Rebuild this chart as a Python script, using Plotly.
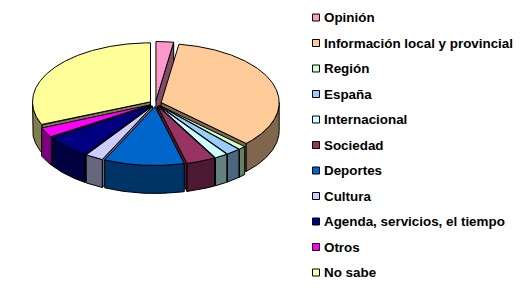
import numpy as np
import plotly.graph_objects as go

# ---- data ----
categories = ["Opinión", "Información local y provincial", "Región", "España",
              "Internacional", "Sociedad", "Deportes", "Cultura",
              "Agenda, servicios, el tiempo", "Otros", "No sabe"]
values = [2.4, 34.8, 1.0, 2.0, 1.8, 4.0, 11.0, 2.5, 6.3, 2.8, 31.4]
top_colors = ["#FF99CC", "#FFCC99", "#CCFFCC", "#99CCFF", "#CCFFFF", "#993366",
              "#0066CC", "#CCCCFF", "#000080", "#FF00FF", "#FFFF99"]

# ---- 3D pie geometry (layout constants) ----
CX, CY = 155.5, 103.5      # pie centre (pixels)
RA, RB = 118.0, 59.0       # ellipse radii
DEPTH = 28.0               # thickness
EX, EY = 6.0, 3.0          # explosion offset


def darker(hexcol):
    h = hexcol.lstrip("#")
    r, g, b = (int(h[i:i + 2], 16) for i in (0, 2, 4))
    return "#%02X%02X%02X" % (r // 2, g // 2, b // 2)


def pt(theta, r, dx, dy, down=0.0):
    t = np.radians(theta)
    return CX + dx + RA * r * np.sin(t), CY + dy - RB * r * np.cos(t) + down


def arc(t1, t2, dx, dy, down=0.0):
    n = max(int(abs(t2 - t1)) * 2, 2)
    th = np.linspace(t1, t2, n + 1)
    xs, ys = pt(th, 1.0, dx, dy, down)
    return list(xs), list(ys)


total = float(sum(values))
angles = np.cumsum([0.0] + [v / total * 360.0 for v in values])

sides = []   # (depth_key, xs, ys, color)
tops = []
for i, cat in enumerate(categories):
    t1, t2 = angles[i], angles[i + 1]
    m = np.radians((t1 + t2) / 2)
    dx, dy = EX * np.sin(m), -EY * np.cos(m)
    ax, ay = CX + dx, CY + dy
    # top surface
    xs, ys = arc(t1, t2, dx, dy)
    tops.append(([ax] + xs + [ax], [ay] + ys + [ay], top_colors[i]))
    side = darker(top_colors[i])
    # outer rim (front half)
    r1, r2 = max(t1, 90.0), min(t2, 270.0)
    if r2 > r1:
        xa, ya = arc(r1, r2, dx, dy)
        xb, yb = arc(r1, r2, dx, dy, DEPTH)
        key = -np.cos(np.radians((r1 + r2) / 2))
        sides.append((key, xa + xb[::-1] + [xa[0]], ya + yb[::-1] + [ya[0]], side))
    # radial faces
    for t, vis in ((t1, np.sin(np.radians(t1)) < -1e-9),
                   (t2, np.sin(np.radians(t2)) > 1e-9)):
        if vis:
            px, py = pt(t, 1.0, dx, dy)
            key = -0.5 * np.cos(np.radians(t))
            sides.append((key, [ax, px, px, ax, ax],
                          [ay, py, py + DEPTH, ay + DEPTH, ay], side))

fig = go.Figure()
for key, xs, ys, col in sorted(sides, key=lambda s: s[0]):
    fig.add_trace(go.Scatter(x=xs, y=ys, mode="lines", fill="toself",
                             fillcolor=col, line=dict(color="black", width=1),
                             hoverinfo="skip", showlegend=False))
for (xs, ys, col), cat, v in zip(tops, categories, values):
    fig.add_trace(go.Scatter(x=xs, y=ys, mode="lines", fill="toself",
                             fillcolor=col, line=dict(color="black", width=1),
                             name=cat, text=f"{cat}: {v}%", hoverinfo="text",
                             showlegend=False))

# ---- manual legend ----
LX, LY0, LSTEP = 312.5, 17.5, 25.5
for i, cat in enumerate(categories):
    yc = LY0 + i * LSTEP
    fig.add_shape(type="rect", xref="x", yref="y", x0=LX, x1=LX + 7,
                  y0=yc - 3.5, y1=yc + 3.5, fillcolor=top_colors[i],
                  line=dict(color="black", width=1))
    fig.add_annotation(x=LX + 9.5, y=yc, xref="x", yref="y", text=cat,
                       showarrow=False, xanchor="left", yanchor="middle",
                       font=dict(family="Liberation Sans, Arial, sans-serif",
                                 size=13.4, color="black", weight="bold"))

fig.update_layout(
    width=530, height=288, margin=dict(l=0, r=0, t=0, b=0),
    paper_bgcolor="white", plot_bgcolor="white", showlegend=False,
    xaxis=dict(range=[0, 530], visible=False, fixedrange=True),
    yaxis=dict(range=[288, 0], visible=False, fixedrange=True),
)
fig.write_html("out.html")
